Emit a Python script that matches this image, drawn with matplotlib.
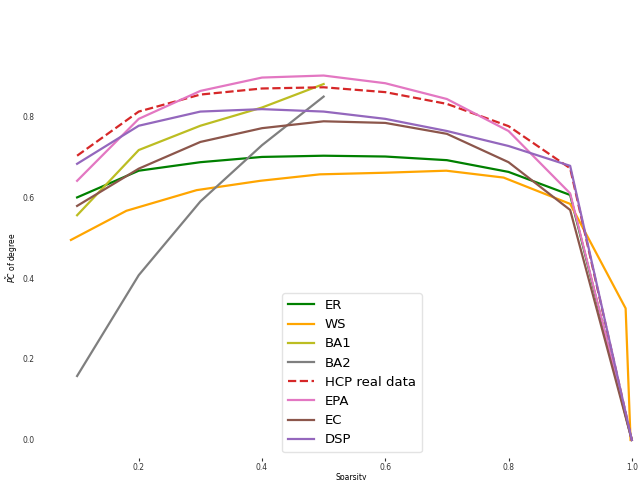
import matplotlib
matplotlib.use("Agg")
import matplotlib.pyplot as plt

sparsity = [0.1, 0.2, 0.3, 0.4, 0.5, 0.6, 0.7, 0.8, 0.9, 1.0]
sparsity_half = [0.1, 0.2, 0.3, 0.4, 0.5]
ws_sparsity = [0.09, 0.18, 0.294, 0.397, 0.494, 0.6, 0.699, 0.792, 0.9, 0.99, 0.998]

er = [0.599, 0.665, 0.686, 0.699, 0.702, 0.700, 0.691, 0.662, 0.605, 0.0]
ws = [0.494, 0.566, 0.617, 0.640, 0.656, 0.660, 0.665, 0.648, 0.583, 0.325, 0.0]
ba1 = [0.555, 0.716, 0.776, 0.821, 0.879]
ba2 = [0.158, 0.407, 0.589, 0.728, 0.848]
hcp = [0.702, 0.811, 0.853, 0.868, 0.871, 0.859, 0.830, 0.775, 0.671, 0.0]
epa = [0.640, 0.793, 0.862, 0.895, 0.900, 0.881, 0.842, 0.763, 0.609, 0.0]
ec = [0.578, 0.670, 0.736, 0.770, 0.787, 0.783, 0.756, 0.686, 0.568, 0.0]
dsp = [0.682, 0.776, 0.811, 0.817, 0.811, 0.793, 0.763, 0.726, 0.677, 0.0]

fig = plt.figure(figsize=(6.42, 4.8), dpi=100)
ax = fig.add_axes([0.0625, 0.0454, 0.9696, 0.8352])

lw = 1.6
ax.plot(sparsity, er, color="green", lw=lw, label="ER")
ax.plot(ws_sparsity, ws, color="orange", lw=lw, label="WS")
ax.plot(sparsity_half, ba1, color="tab:olive", lw=lw, label="BA1")
ax.plot(sparsity_half, ba2, color="tab:gray", lw=lw, label="BA2")
ax.plot(sparsity, hcp, color="tab:red", lw=lw, ls="--", label="HCP real data")
ax.plot(sparsity, epa, color="tab:pink", lw=lw, label="EPA")
ax.plot(sparsity, ec, color="tab:brown", lw=lw, label="EC")
ax.plot(sparsity, dsp, color="tab:purple", lw=lw, label="DSP")

ax.set_xlim(0.04, 1.05)
ax.set_ylim(-0.045, 0.945)
ax.set_xticks([0.2, 0.4, 0.6, 0.8, 1.0])
ax.set_yticks([0.0, 0.2, 0.4, 0.6, 0.8])
ax.tick_params(axis="x", labelsize=5.5, length=2, width=0.8, pad=1.5, colors="#333333")
ax.tick_params(axis="y", labelsize=5.5, length=0, pad=4, colors="#333333")
for s in ax.spines.values():
    s.set_visible(False)
ax.set_xlabel("Sparsity", fontsize=5.5, labelpad=1)
ax.set_ylabel(r"$\tilde{PC}$ of degree", fontsize=5.5, labelpad=2)

ax.legend(loc="lower center", fontsize=9.5, frameon=True, edgecolor="#dddddd",
          handlelength=2.0, borderpad=0.45, labelspacing=0.47,
          bbox_to_anchor=(0.501, -0.002))

fig.savefig("out.png", dpi=100)
